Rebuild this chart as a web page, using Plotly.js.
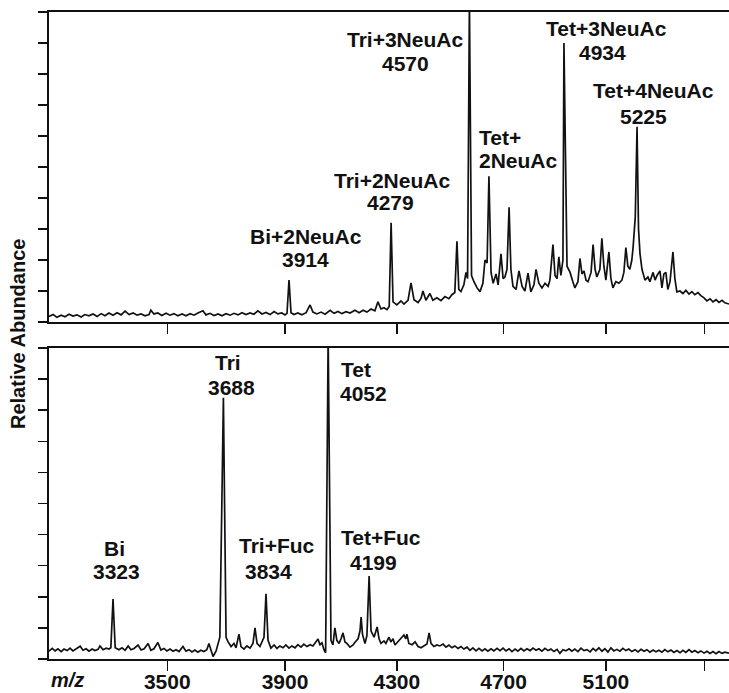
<!DOCTYPE html>
<html>
<head>
<meta charset="utf-8">
<script src="https://cdn.plot.ly/plotly-3.0.1.min.js"></script>
<style>html,body{margin:0;padding:0;background:#fff;}#chart{width:729px;height:693px;}</style>
</head>
<body>
<div id="chart"></div>
<script>
// ---- Data (m/z and relative abundance, %) ----
// Top panel spectrum
const topMz = [3120,3133,3145,3158,3170,3183,3195,3208,3221,3233,3246,3259,3272,3285,3297,3310,3323,3336,3349,3362,
3375,3388,3401,3414,3427,3440,3446,3456,3469,3482,3496,3509,3522,3535,3549,3562,3576,3589,3602,3619,
3629,3643,3656,3670,3683,3697,3711,3724,3738,3751,3765,3779,3792,3806,3820,3834,3848,3862,3875,3889,
3900,3907,3914,3921,3931,3945,3959,3974,3988,3998,4012,4027,4041,4059,4073,4087,4101,4116,4130,4148,
4163,4177,4191,4206,4220,4231,4242,4253,4264,4272,4279,4286,4300,4315,4326,4341,4352,4363,4378,4389,
4396,4407,4422,4433,4448,4463,4478,4493,4504,4515,4523,4530,4538,4549,4557,4563,4570,4578,4587,4599,
4610,4621,4629,4637,4644,4652,4660,4671,4679,4690,4698,4705,4713,4721,4728,4736,4748,4759,4771,4782,
4794,4805,4817,4825,4836,4848,4860,4872,4879,4891,4899,4907,4914,4922,4930,4934,4946,4958,4969,4977,
4989,4997,5005,5013,5021,5029,5041,5049,5057,5064,5076,5084,5092,5100,5112,5120,5128,5140,5152,5164,
5172,5180,5188,5196,5204,5209,5218,5225,5231,5237,5245,5257,5269,5277,5290,5298,5306,5318,5326,5334,
5342,5350,5359,5371,5379,5387,5400,5412,5424,5437,5449,5461,5474,5486,5499,5511,5524,5536,5549,5561,
5574,5586,5603];
const topInt = [1.8,2.4,1.5,2.2,1.7,2.5,1.9,2.3,1.6,2.4,2.0,2.6,1.8,2.7,2.0,2.9,2.2,3.0,2.3,3.5,
2.4,2.9,2.2,2.6,2.0,2.4,3.8,2.6,2.9,2.1,2.8,2.2,2.7,2.0,2.6,2.0,2.7,2.2,2.9,3.6,
2.3,2.8,2.1,2.6,2.0,2.7,2.2,2.8,2.3,3.0,2.4,2.9,2.5,3.6,2.6,3.1,2.4,3.4,2.6,2.9,
2.3,2.8,13.5,3.0,2.4,2.9,2.3,3.0,5.5,3.2,2.6,3.2,2.5,3.8,2.8,3.4,2.7,3.3,2.9,3.8,
3.0,3.8,3.2,4.2,3.6,6.5,4.2,4.6,4.0,5.0,32,6.5,5.5,6.8,5.8,7.0,12.6,7.2,6.3,7.6,
10.0,7.0,9.2,7.0,7.8,6.9,8.2,7.5,8.8,9.5,26,10.5,9.8,12.0,16.0,14,104,15,13,11,
9.8,12.5,20,19,47,16,12.5,15.5,12.0,22,14,14.5,17,37,17,11.5,10.5,16.5,11.5,10.0,
15.8,9.7,12.0,17.0,12.5,11.0,12.5,11.5,13.5,25,15,14,21,15,20,90,18,16,13,11,
13,20.5,15.5,16.5,13.5,13,16,25,17,14.5,17,27,18,13.5,22.6,14,11,13,12.5,13.5,
16,24,18,17,20,24,34,63,30,22,17,13.5,14.5,13,16,13.5,15,16.5,11,15.5,
16,10.5,13,22.6,14,9.7,10,9.2,10.2,9.0,9.8,8.8,9.5,8.5,7.8,6.8,7.5,6.5,7.2,6.3,
7.0,6.2,5.8];

// Bottom panel spectrum
const botMz = [3120,3130,3139,3148,3158,3167,3177,3186,3195,3205,3218,3227,3237,3246,3256,3265,3275,3281,3291,3301,
3310,3316,3323,3330,3342,3352,3362,3372,3381,3391,3404,3414,3424,3437,3446,3456,3469,3479,3489,3499,
3509,3519,3529,3539,3552,3562,3572,3582,3592,3602,3612,3622,3632,3639,3646,3653,3663,3669,3676,3688,
3697,3704,3714,3724,3731,3741,3748,3758,3768,3779,3789,3796,3803,3813,3820,3827,3834,3841,3851,3862,
3872,3882,3893,3903,3914,3924,3935,3945,3956,3966,3977,3988,3998,4009,4016,4023,4030,4037,4043,4052,
4062,4069,4076,4083,4091,4098,4105,4112,4119,4130,4141,4148,4159,4166,4170,4175,4184,4191,4199,4206,
4217,4228,4235,4242,4253,4260,4271,4278,4286,4293,4304,4315,4326,4333,4337,4344,4356,4367,4378,4389,
4400,4411,4419,4426,4437,4448,4459,4471,4482,4493,4504,4515,4527,4538,4549,4561,4572,4583,4595,4606,
4618,4629,4640,4652,4663,4675,4686,4698,4709,4721,4732,4744,4755,4767,4778,4790,4802,4813,4825,4836,
4848,4860,4872,4883,4895,4907,4918,4930,4942,4954,4965,4977,4989,5001,5013,5025,5037,5049,5060,5072,
5084,5096,5108,5120,5132,5144,5156,5168,5180,5192,5204,5217,5229,5241,5253,5265,5277,5290,5302,5314,
5326,5338,5350,5363,5375,5387,5400,5412,5424,5437,5449,5461,5474,5486,5499,5511,5524,5536,5549,5561,
5574,5586,5603];
const botInt = [2.5,3.4,2.6,3.3,2.4,3.2,2.7,3.5,2.6,3.2,4.1,2.8,3.3,2.5,3.2,2.7,3.1,4.2,3.0,3.5,
3.2,3.6,19.3,3.6,3.0,3.6,2.8,4.2,3.0,3.4,4.5,2.9,3.3,5.0,2.8,3.3,5.3,2.9,3.4,2.6,
3.2,2.5,3.0,2.4,4.0,2.5,3.0,2.3,2.9,2.2,2.8,2.4,3.0,5.0,3.0,0.8,2.5,4.5,7,84,
7,5.5,4.0,5.0,3.6,8.0,4.0,3.2,4.2,3.5,5.0,10.0,5.0,4.0,5.5,7,21,6,3.5,4.5,
3.4,4.2,3.6,4.5,3.5,4.2,3.6,4.6,3.8,4.8,4.0,4.6,4.2,5.5,6.4,4.6,5.2,3.0,2.0,104,
6,4.5,10,6.0,5.0,6.5,8.4,5.5,5.0,3.8,4.5,5.4,6.5,9,13.5,8,5.0,7.5,26.7,9,
7.0,10.3,6.5,5.0,5.8,5.0,7.0,5.5,6.5,4.5,5.5,6.5,7.7,6.5,8.0,5.0,4.6,5.5,4.0,3.6,
4.2,4.8,8.4,5.0,4.0,4.5,4.2,4.8,3.8,4.5,3.6,4.2,3.4,4.0,3.2,3.8,2.8,3.6,2.6,3.4,
2.6,3.3,2.5,3.3,2.6,3.4,2.7,3.5,2.6,3.3,2.4,3.2,2.5,3.4,2.6,3.3,2.7,3.5,2.8,3.3,
2.5,3.4,2.7,3.2,2.4,3.1,1.8,3.0,2.6,3.3,2.5,3.2,2.4,3.5,2.7,3.0,2.3,3.4,2.6,3.6,
2.5,3.3,2.2,3.6,2.6,3.1,2.5,3.4,2.7,3.2,2.4,3.0,2.3,3.1,2.5,3.0,2.2,2.9,2.3,2.8,
2.2,3.0,2.3,2.9,2.1,2.7,2.0,2.8,2.1,3.0,2.2,2.7,2.0,2.6,1.9,2.5,1.8,2.4,1.7,2.4,
1.8,2.2,1.9];

// Axis ticks
const tickMz = [3500, 3900, 4300, 4700, 5100, 5500];
const tickLabels = ['3500', '3900', '4300', '4700', '5100', ''];
const mzRange = [3120, 5603];

// Peak labels
const topLabels = ['Bi+2NeuAc','3914','Tri+2NeuAc','4279','Tri+3NeuAc','4570','Tet+','2NeuAc','Tet+3NeuAc','4934','Tet+4NeuAc','5225'];
const botLabels = ['Bi','3323','Tri','3688','Tri+Fuc','3834','Tet','4052','Tet+Fuc','4199'];
const yTitle = 'Relative Abundance';
const xTitle = 'm/z';

// ---- Layout geometry (pixels) ----
const W = 729, H = 693, ML = 49, MR = 0, MT = 12, MB = 34;
const PW = W - ML - MR, PH = H - MT - MB;
const px2x = px => (px - ML) / PW;
const py2y = py => (H - MB - py) / PH;

// Label positions: [x, y, xanchor]
const topPos = [[306,236,'center'],[305,259,'center'],[392,180,'center'],[390,203,'center'],
  [405,40,'center'],[405,64,'center'],[477,137,'left'],[477,160,'left'],
  [606,28,'center'],[602,53,'center'],[653,90,'center'],[643,116,'center']];
const botPos = [[114,548,'center'],[116,571,'center'],[228,362,'center'],[231,387,'center'],
  [277,545,'center'],[268,571,'center'],[339,369,'left'],[338,393,'left'],
  [381,537,'center'],[373,562,'center']];

const FONT = 'Liberation Sans, Arial, Helvetica, sans-serif';
const sq = v => Math.sqrt(v);   // time-of-flight style (square-root) m/z scale

const lineStyle = {color: '#111', width: 1.7};
const traces = [
  {x: botMz.map(sq), y: botInt, xaxis: 'x', yaxis: 'y', type: 'scatter', mode: 'lines', line: lineStyle, hoverinfo: 'skip'},
  {x: topMz.map(sq), y: topInt, xaxis: 'x2', yaxis: 'y2', type: 'scatter', mode: 'lines', line: lineStyle, hoverinfo: 'skip'}
];

const xCommon = {
  range: mzRange.map(sq), tickmode: 'array', tickvals: tickMz.map(sq),
  ticks: 'outside', ticklen: 10, tickwidth: 1.5, tickcolor: '#111',
  showline: true, linewidth: 2, linecolor: '#111', mirror: true,
  showgrid: false, zeroline: false, fixedrange: true
};
const yCommon = {
  range: [0, 100], dtick: 10, tick0: 0, ticks: 'outside', ticklen: 9, tickwidth: 1.5, tickcolor: '#111',
  showticklabels: false, showline: true, linewidth: 2, linecolor: '#111', mirror: false,
  showgrid: false, zeroline: false, fixedrange: true
};

const annotations = [];
function addLabels(texts, pos) {
  texts.forEach((t, i) => {
    const p = pos[i];
    annotations.push({
      text: '<b>' + t + '</b>', xref: 'paper', yref: 'paper',
      x: px2x(p[0]), y: py2y(p[1]), xanchor: p[2], yanchor: 'middle',
      showarrow: false, font: {family: FONT, size: 21, color: '#111'}
    });
  });
}
addLabels(topLabels, topPos);
addLabels(botLabels, botPos);
annotations.push({
  text: '<b><i>' + xTitle + '</i></b>', xref: 'paper', yref: 'paper',
  x: px2x(67), y: py2y(680), xanchor: 'center', yanchor: 'middle', borderpad: 0,
  showarrow: false, font: {family: FONT, size: 20, color: '#111'}
});
annotations.push({
  text: '<b>' + yTitle + '</b>', xref: 'paper', yref: 'paper',
  x: px2x(18), y: py2y(334), xanchor: 'center', yanchor: 'middle', textangle: -90,
  showarrow: false, font: {family: FONT, size: 20, color: '#111'}
});

const layout = {
  width: W, height: H,
  margin: {l: ML, r: MR, t: MT, b: MB, pad: 0},
  paper_bgcolor: '#fff', plot_bgcolor: '#fff',
  showlegend: false,
  xaxis: Object.assign({}, xCommon, {
    domain: [0, 1], anchor: 'y',
    ticktext: tickLabels.map(t => t ? '<b>' + t + '</b>' : ''),
    tickfont: {family: FONT, size: 21, color: '#111'},
    ticklabelstandoff: -7
  }),
  yaxis: Object.assign({}, yCommon, {domain: [0, (H - MB - 348) / PH], anchor: 'x'}),
  xaxis2: Object.assign({}, xCommon, {domain: [0, 1], anchor: 'y2', showticklabels: false, ticktext: tickLabels}),
  yaxis2: Object.assign({}, yCommon, {domain: [(H - MB - 322) / PH, 1], anchor: 'x2'}),
  annotations: annotations
};

Plotly.newPlot('chart', traces, layout, {displayModeBar: false, staticPlot: true});
</script>
</body>
</html>
